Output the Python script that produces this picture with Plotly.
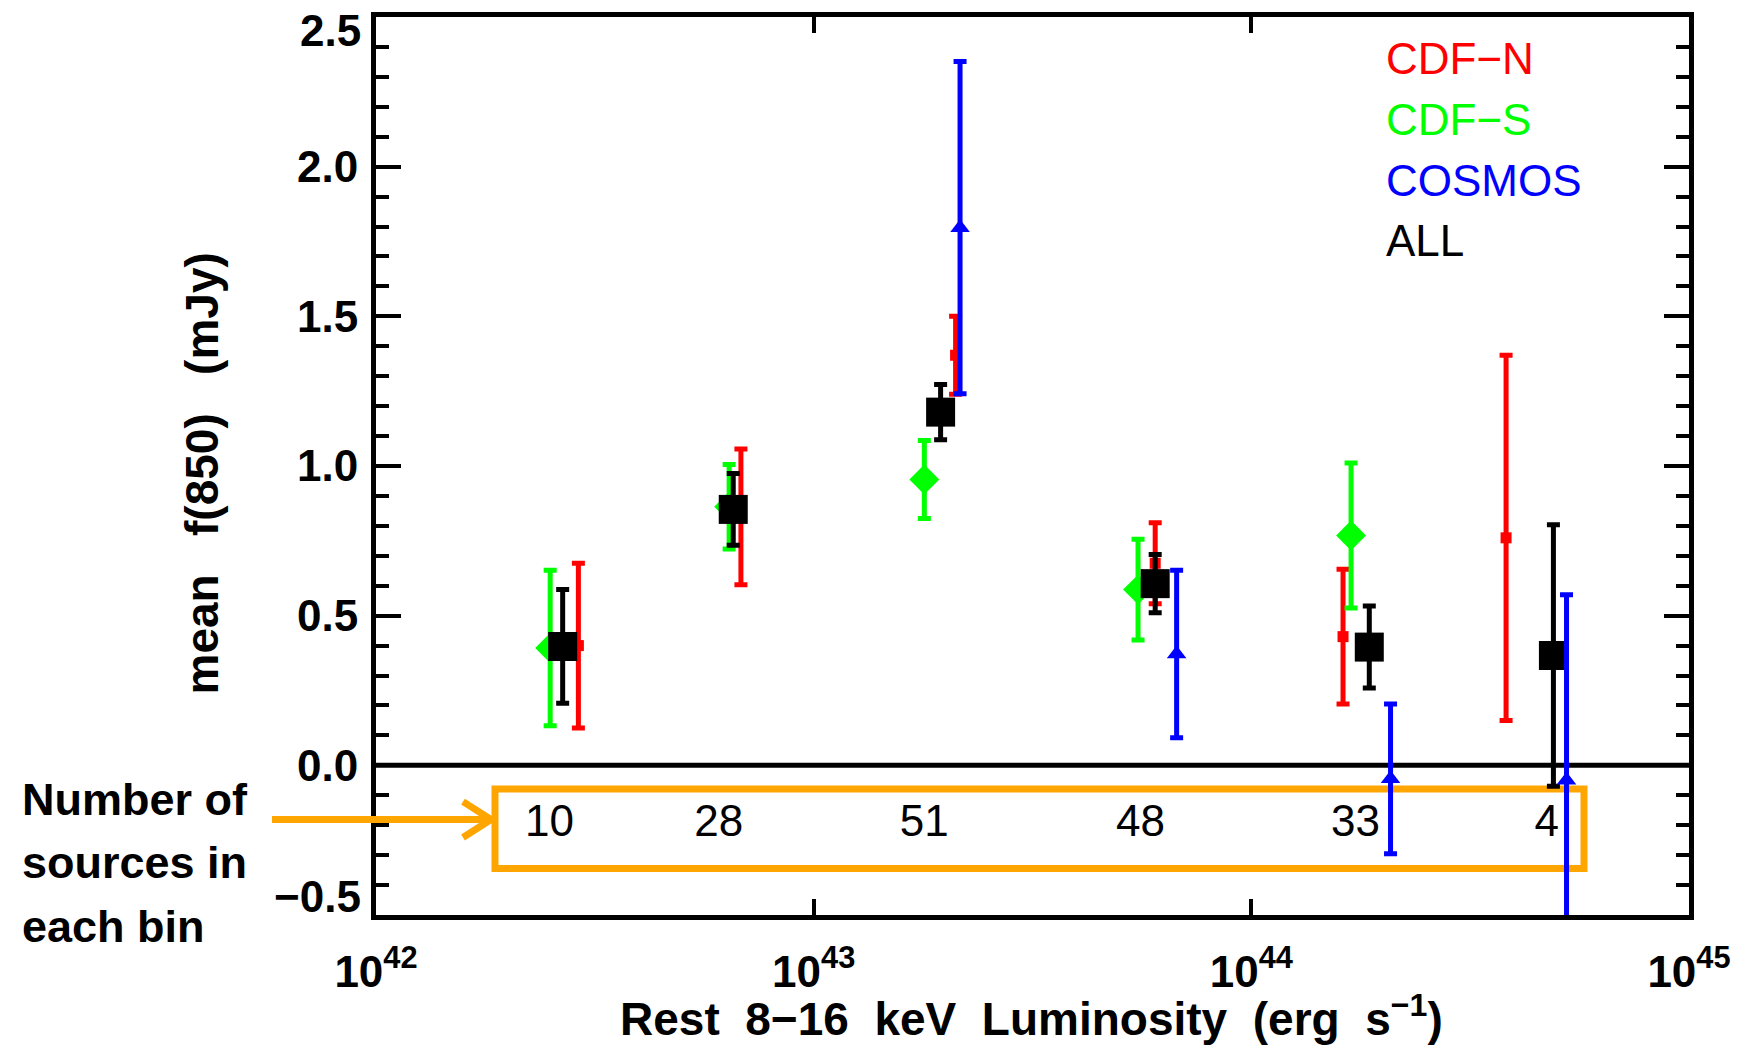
import plotly.graph_objects as go

# ---------------- data ----------------
# CDF-N (red)
cdfn_L = [2.90e42, 6.82e42, 2.11e43, 6.03e43, 1.62e44, 3.82e44]
cdfn_f = [0.40, 0.83, 1.37, 0.675, 0.43, 0.76]
cdfn_err = [0.275, 0.227, 0.13, 0.135, 0.225, 0.61]

# CDF-S (green)
cdfs_L = [2.50e42, 6.41e42, 1.79e43, 5.51e43, 1.69e44]
cdfs_f = [0.392, 0.864, 0.955, 0.587, 0.768]
cdfs_err = [0.26, 0.141, 0.13, 0.168, 0.242]

# COSMOS (blue)
cosmos_L = [2.16e43, 6.75e43, 2.08e44, 5.25e44]
cosmos_f = [1.796, 0.372, -0.045, -0.05]
cosmos_err = [0.555, 0.28, 0.25, 0.62]

# ALL (black)
all_L = [2.67e42, 6.55e42, 1.95e43, 6.03e43, 1.86e44, 4.90e44]
all_f = [0.397, 0.855, 1.18, 0.607, 0.395, 0.367]
all_err = [0.19, 0.12, 0.092, 0.097, 0.137, 0.437]

# number of sources per bin
bin_L = [2.49e42, 6.07e42, 1.79e43, 5.58e43, 1.73e44, 4.73e44]
bin_counts = [10, 28, 51, 48, 33, 4]

x_tickvals = [1e42, 1e43, 1e44, 1e45]
x_ticktext = ["10<sup>42</sup>", "10<sup>43</sup>", "10<sup>44</sup>", "10<sup>45</sup>"]
y_tickvals = [0.0, 0.5, 1.0, 1.5, 2.0]
y_ticktext = ["0.0", "0.5", "1.0", "1.5", "2.0"]

FONT = "Liberation Sans, Arial, sans-serif"
RED, GREEN, BLUE, BLACK, ORANGE = "#FF0000", "#00FF00", "#0000FF", "#000000", "#FFA500"

# plot area in page pixels (for paper-coordinate decorations)
L, R, T, B = 376, 1689, 12, 915
def px(X):
    return (X - L) / (R - L)
def py(Y):
    return (B - Y) / (B - T)

fig = go.Figure()

def err_trace(x, y, e, color, symbol, size):
    return go.Scatter(
        x=x, y=y, mode="markers",
        marker=dict(symbol=symbol, size=size, color=color, line=dict(width=0)),
        error_y=dict(type="data", array=e, visible=True, color=color,
                     thickness=5, width=6.5),
        hoverinfo="x+y",
    )

fig.add_trace(err_trace(cdfn_L, cdfn_f, cdfn_err, RED, "square", 11))
fig.add_trace(err_trace(cdfs_L, cdfs_f, cdfs_err, GREEN, "diamond", 23))
fig.add_trace(err_trace(all_L, all_f, all_err, BLACK, "square", 29))
fig.add_trace(err_trace(cosmos_L, cosmos_f, cosmos_err, BLUE, "triangle-up", 17))

count_row_y = -0.2
fig.add_trace(go.Scatter(
    x=bin_L, y=[count_row_y] * len(bin_L), mode="text",
    text=[str(c) for c in bin_counts], textposition="middle center",
    textfont=dict(family=FONT, size=44, color=BLACK), hoverinfo="skip",
))

shapes = [
    # zero line
    dict(type="line", xref="paper", x0=0, x1=1, yref="y", y0=0, y1=0,
         line=dict(color=BLACK, width=5), layer="below"),
    # orange box around the counts
    dict(type="rect", xref="paper", x0=px(495), x1=px(1584), yref="y", y0=-0.345, y1=-0.079,
         line=dict(color=ORANGE, width=7), layer="below"),
    # orange arrow shaft
    dict(type="line", xref="paper", yref="paper", x0=px(272), x1=px(489), y0=py(819), y1=py(819),
         line=dict(color=ORANGE, width=7)),
    # orange arrow head (open chevron)
    dict(type="path", xref="paper", yref="paper",
         path="M %f,%f L %f,%f L %f,%f" % (px(463), py(801), px(491), py(819), px(463), py(837)),
         line=dict(color=ORANGE, width=7)),
]

annotations = []
# y tick labels at the ends of the axis
annotations.append(dict(xref="paper", x=0, xanchor="right", xshift=-13, yref="y", y=2.5,
                        yanchor="middle", yshift=-13, text="2.5", showarrow=False,
                        font=dict(family=FONT, size=44, color=BLACK, weight="bold")))
annotations.append(dict(xref="paper", x=0, xanchor="right", xshift=-13, yref="y", y=-0.5,
                        yanchor="middle", yshift=19, text="−0.5", showarrow=False,
                        font=dict(family=FONT, size=44, color=BLACK, weight="bold")))
# axis titles
annotations.append(dict(xref="paper", x=px(202), yref="paper", y=py(471), xanchor="center",
                        yanchor="middle", textangle=-90, showarrow=False,
                        text="mean\u00a0\u00a0\u00a0f(850)\u00a0\u00a0\u00a0(mJy)",
                        font=dict(family=FONT, size=46, color=BLACK, weight="bold")))
annotations.append(dict(xref="paper", x=px(1031), yref="paper", y=py(1017), xanchor="center",
                        yanchor="middle", showarrow=False,
                        text="Rest\u00a0\u00a08−16\u00a0\u00a0keV\u00a0\u00a0Luminosity\u00a0\u00a0(erg\u00a0\u00a0s<sup>−1</sup>)",
                        font=dict(family=FONT, size=46, color=BLACK, weight="bold")))
# legend text
for label, color, Y in [("CDF−N", RED, 54), ("CDF−S", GREEN, 115),
                        ("COSMOS", BLUE, 176), ("ALL", BLACK, 237)]:
    annotations.append(dict(xref="paper", x=px(1384), yref="paper", y=py(Y), xanchor="left",
                            yanchor="middle", text=label, showarrow=False,
                            font=dict(family=FONT, size=44, color=color)))
# side note
for line, Y in [("Number of", 799), ("sources in", 862), ("each bin", 927)]:
    annotations.append(dict(xref="paper", x=px(20), yref="paper", y=py(Y), xanchor="left",
                            yanchor="middle", text=line, showarrow=False,
                            font=dict(family=FONT, size=45, color=BLACK, weight="bold")))

axis_common = dict(
    showline=True, linewidth=5, linecolor=BLACK, mirror="ticks",
    ticks="inside", tickcolor=BLACK, tickwidth=4,
    showgrid=False, zeroline=False,
    tickfont=dict(family=FONT, size=44, color=BLACK, weight="bold"),
)

fig.update_layout(
    width=1748, height=1048,
    margin=dict(l=L, r=1748 - R, t=T, b=1048 - B, pad=0),
    paper_bgcolor="white", plot_bgcolor="white",
    showlegend=False,
    xaxis=dict(type="log", range=[42, 45], tickvals=x_tickvals, ticktext=x_ticktext,
               ticklen=16, ticklabelstandoff=14, **axis_common),
    yaxis=dict(range=[-0.5, 2.5], tickvals=y_tickvals, ticktext=y_ticktext,
               ticklen=25, ticklabelstandoff=4,
               minor=dict(tick0=0, dtick=0.1, ticklen=13, tickwidth=4, ticks="inside",
                          tickcolor=BLACK, showgrid=False),
               **axis_common),
    shapes=shapes,
    annotations=annotations,
)

fig.write_html("out.html")
